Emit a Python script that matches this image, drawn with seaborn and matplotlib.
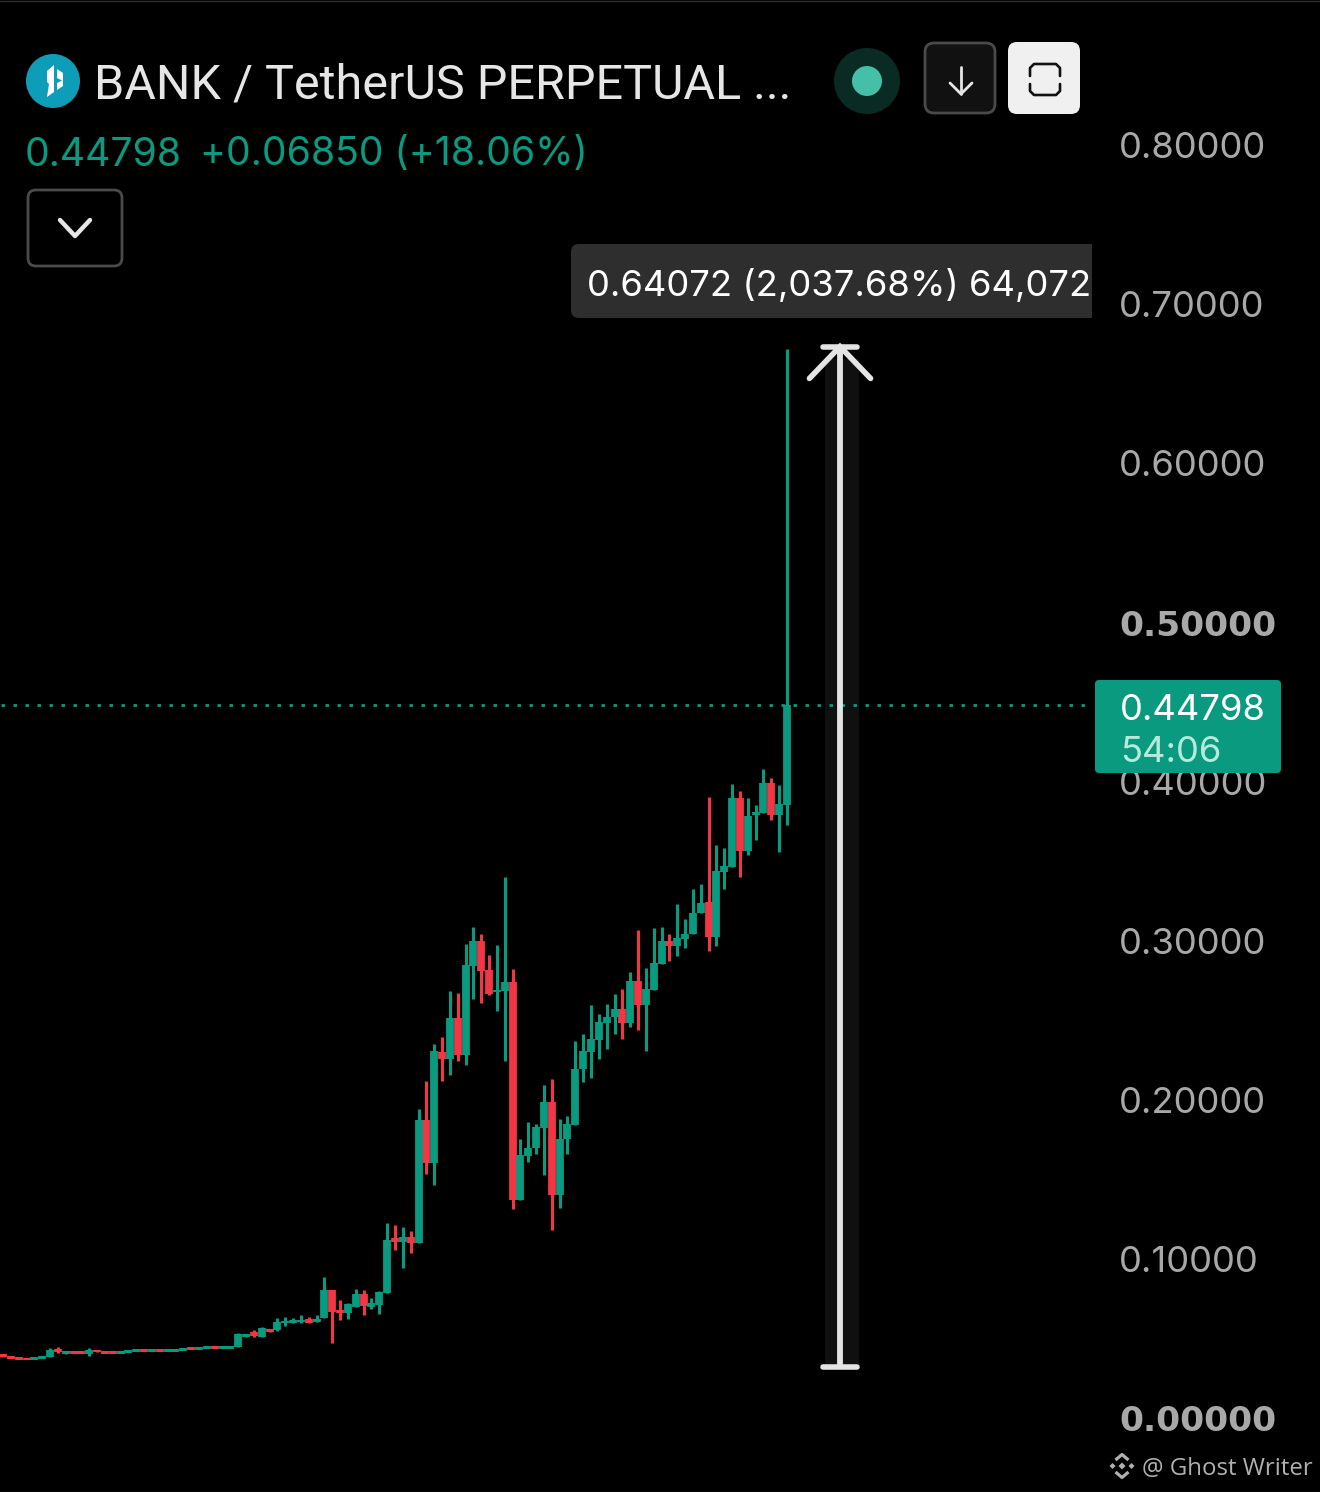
import numpy as np
import pandas as pd
import seaborn as sns
import matplotlib
matplotlib.use("Agg")
import matplotlib.pyplot as plt
from matplotlib.patches import FancyBboxPatch, Circle, Rectangle, Polygon
from matplotlib.ticker import FixedLocator

# ---------- data (prices) ----------
opens = [.0399,.0383,.0377,.0374,.0369,.0377,.0383,.0434,.0405,.0418,.0415,.0402,.0427,.0418,.0415,.0409,.0412,.0418,.0427,.0421,.0427,
         .0421,.0421,.0427,.0440,.0434,.0437,.0449,.0440,.0440,.0446,.0509,.0541,.0509,.0559,.0553,.0597,.0600,.0603,.0622,.0607,.0629,
         .0805,.0679,.0660,.0698,.0779,.0698,.0710,.0786,.1131,.1106,.1138,.1100,.1873,.1603,.2300,.2256,.2514,.2282,.2841,.2998,.2816,
         .2678,.2684,.2740,.1370,.1647,.1697,.1823,.1986,.1402,.1754,.1842,.2194,.2300,.2376,.2483,.2520,.2571,.2483,.2747,.2596,.2690,
         .2854,.2998,.2967,.3011,.3042,.3174,.3243,.3023,.3432,.3463,.3897,.3564,.3790,.3803,.3991,.3790,.3853]
closes = [.0383,.0374,.0368,.0368,.0378,.0387,.0427,.0415,.0415,.0409,.0409,.0427,.0415,.0409,.0409,.0415,.0421,.0427,.0418,.0427,.0418,
          .0427,.0431,.0437,.0431,.0440,.0446,.0437,.0446,.0446,.0528,.0528,.0515,.0566,.0541,.0603,.0610,.0613,.0616,.0600,.0622,.0805,
          .0666,.0660,.0717,.0779,.0704,.0723,.0792,.1119,.1106,.1138,.1100,.1873,.1603,.2307,.2256,.2514,.2282,.2847,.2998,.2810,.2665,
          .2690,.2740,.1370,.1653,.1697,.1829,.1986,.1402,.1754,.1848,.2194,.2307,.2382,.2489,.2520,.2571,.2483,.2747,.2596,.2696,.2860,
          .2998,.2967,.3017,.3042,.3174,.3237,.3023,.3438,.3470,.3897,.3564,.3784,.3809,.3991,.3790,.3859,.44798]
highs = [.0399,.0383,.0377,.0374,.0378,.0387,.0440,.0446,.0415,.0418,.0415,.0440,.0427,.0418,.0415,.0415,.0421,.0427,.0427,.0427,.0427,
         .0427,.0431,.0437,.0440,.0440,.0446,.0449,.0446,.0446,.0534,.0528,.0550,.0572,.0562,.0629,.0635,.0629,.0647,.0635,.0647,.0886,
         .0805,.0742,.0723,.0811,.0805,.0754,.0798,.1226,.1213,.1200,.1175,.1942,.2118,.2351,.2395,.2684,.2671,.2979,.3086,.3042,.2910,
         .2973,.3400,.2822,.1754,.1860,.1848,.2093,.2131,.1879,.1898,.2370,.2414,.2596,.2539,.2602,.2665,.2696,.2803,.3067,.2828,.3080,
         .3086,.3042,.3231,.3136,.3325,.3356,.3903,.3602,.3583,.3985,.3941,.3897,.3853,.4079,.4023,.3979,.6719]
lows = [.0383,.0374,.0368,.0368,.0369,.0377,.0383,.0409,.0405,.0409,.0409,.0390,.0415,.0409,.0409,.0409,.0412,.0418,.0418,.0421,.0418,
        .0421,.0421,.0427,.0431,.0434,.0437,.0437,.0440,.0440,.0446,.0509,.0509,.0506,.0538,.0547,.0578,.0597,.0600,.0597,.0603,.0629,
        .0471,.0616,.0622,.0698,.0647,.0685,.0654,.0786,.1056,.0943,.1037,.1100,.1534,.1464,.2118,.2156,.2244,.2219,.2634,.2608,.2659,
        .2558,.2244,.1314,.1370,.1609,.1659,.1527,.1182,.1320,.1659,.1842,.2112,.2137,.2256,.2319,.2414,.2382,.2458,.2439,.2307,.2690,
        .2854,.2872,.2904,.2954,.3042,.3174,.2935,.2967,.3325,.3463,.3400,.3539,.3633,.3803,.3759,.3558,.3727]
price_ticks = [0.0, 0.1, 0.2, 0.3, 0.4, 0.5, 0.6, 0.7, 0.8]
bold_ticks = [0.0, 0.5]
last_price = 0.44798
measure_low = 0.0321
measure_high = 0.6734
measure_index = 106.76

GREEN = "#0A9A80"
RED = "#F23645"
GREY_TICK = "#A8A8A8"
MIN_BODY = 0.0018  # thinnest body the chart draws, so flat candles stay visible

sns.set_theme(style="dark", rc={"figure.facecolor": "black", "axes.facecolor": "black"})
plt.rcParams["font.family"] = ["Inter", "DejaVu Sans"]

idx = np.arange(len(opens))
o, c_ = np.array(opens), np.array(closes)
direction = np.where(c_ >= o, "up", "down")
palette = {"up": GREEN, "down": RED}
mid = (o + c_) / 2
half = np.maximum(np.abs(c_ - o), MIN_BODY) / 2
wicks = pd.concat([pd.DataFrame({"i": idx, "price": highs, "dir": direction}),
                   pd.DataFrame({"i": idx, "price": lows, "dir": direction})])
bodies = pd.concat([pd.DataFrame({"i": idx, "price": mid - half, "dir": direction}),
                    pd.DataFrame({"i": idx, "price": mid + half, "dir": direction})])

fig = plt.figure(figsize=(13.2, 14.92), dpi=100, facecolor="black")
ax = fig.add_axes([0, 0, 1, 1])
ax.set_facecolor("black")

# measuring band behind everything
ax.fill_between([measure_index - 1.95, measure_index + 2.4], measure_low, measure_high - 0.008,
                color="#101010", lw=0, zorder=0)

sns.lineplot(data=wicks, x="i", y="price", units="i", estimator=None, hue="dir", palette=palette,
             linewidth=2.2, solid_capstyle="butt", legend=False, ax=ax, zorder=2)
sns.lineplot(data=bodies, x="i", y="price", units="i", estimator=None, hue="dir", palette=palette,
             linewidth=5.6, solid_capstyle="butt", legend=False, ax=ax, zorder=3)

ax.set_xlim(-3 / 7.84, (1320 - 3) / 7.84)
ax.set_ylim((1418 - 1492) / 1591, 1418 / 1591)
ax.set_xlabel("")
ax.set_ylabel("")
ax.grid(False)
for s in ax.spines.values():
    s.set_visible(False)
ax.set_xticks([])
ax.yaxis.set_major_locator(FixedLocator(price_ticks))
ax.yaxis.tick_right()
ax.set_yticklabels([f"{v:.5f}" for v in price_ticks])
ax.tick_params(axis="y", length=0, pad=-144.5, labelcolor=GREY_TICK, labelsize=26.2)
for lab, v in zip(ax.get_yticklabels(), price_ticks):
    lab.set_ha("left")
    if v in bold_ticks:
        lab.set_fontfamily(["DejaVu Sans"])
        lab.set_fontweight("bold")
        lab.set_fontsize(24.8)

# last-price dotted line
ax.plot([-0.2, (1088 - 3) / 7.84], [last_price, last_price], color=GREEN, lw=2.0,
        linestyle=(0, (1.25, 3.07)), zorder=1)

# measuring arrow
c = "#E4E4E4"
cap_half = 2.2
ax.plot([measure_index, measure_index], [measure_low, measure_high], color=c, lw=4.2, zorder=4,
        solid_capstyle="butt")
ax.plot([measure_index - cap_half, measure_index + cap_half], [measure_low, measure_low], color=c, lw=4.0,
        zorder=4, solid_capstyle="round")
ax.plot([measure_index - cap_half, measure_index + cap_half], [measure_high, measure_high], color=c, lw=4.0,
        zorder=4, solid_capstyle="round")
ax.plot([measure_index - 3.9, measure_index, measure_index + 3.9],
        [measure_high - 0.020, measure_high, measure_high - 0.020], color=c, lw=4.0, zorder=4,
        solid_capstyle="round", solid_joinstyle="miter")

# ---------- interface chrome, in a pixel-space overlay ----------
ui = fig.add_axes([0, 0, 1, 1], facecolor="none")
ui.set_xlim(0, 1320)
ui.set_ylim(1492, 0)
ui.axis("off")

def rbox(x0, y0, x1, y1, r, **kw):
    p = FancyBboxPatch((x0 + r, y0 + r), x1 - x0 - 2 * r, y1 - y0 - 2 * r,
                       boxstyle=f"round,pad={r},rounding_size={r}", **kw)
    ui.add_patch(p)
    return p

def line(xs, ys, color, lw, **kw):
    kw.setdefault("solid_capstyle", "round")
    ui.plot(xs, ys, color=color, lw=lw, **kw)

# edges of the screenshot
line([0, 1320], [0.5, 0.5], "#2c2c2c", 1)
line([0, 1320], [1491.5, 1491.5], "#2c2c2c", 1)

# logo
ui.add_patch(Circle((53, 81), 27, fc="#0E9DB9", ec="none"))
ui.add_patch(Polygon([[47, 71], [54, 65], [54, 92], [47, 97], [49, 84], [47, 82]], fc="white", ec="none"))
ui.add_patch(Polygon([[57, 69], [63, 73], [63, 81], [57, 78]], fc="white", ec="none"))
ui.add_patch(Polygon([[57, 83], [63, 80], [63, 86], [57, 90]], fc="white", ec="none"))

# title row
ui.text(94, 85, "BANK / TetherUS PERPETUAL ...", color="#E6E6E6", fontsize=34.9, va="center", ha="left",
        fontfamily=["Roboto", "DejaVu Sans"])
ui.text(25, 155, "0.44798", color=GREEN, fontsize=28.2, va="center", ha="left")
ui.text(200, 155, "+0.06850 (+18.06%)", color=GREEN, fontsize=28.2, va="center", ha="left")

# status dot
ui.add_patch(Circle((867, 81), 33, fc="#0A2A24", ec="none"))
ui.add_patch(Circle((867, 81), 15, fc="#45BFA8", ec="none"))

# down button
rbox(925, 43, 995, 113, 9, fc="#111111", ec="#4A4A4A", lw=2)
line([961, 961], [67, 94], "#E6E6E6", 2)
line([950, 961, 972], [83, 94, 83], "#E6E6E6", 2)

# expand button
rbox(1008, 42, 1080, 114, 9, fc="#F0F0F0", ec="none")
ui.plot([1030, 1030, 1034, 1056, 1060, 1060], [76, 68, 64, 64, 68, 76], color="#111111", lw=1.9)
ui.plot([1030, 1030, 1034, 1056, 1060, 1060], [84, 91, 95, 95, 91, 84], color="#111111", lw=1.9)

# chevron button
rbox(28, 190, 122, 266, 8, fc="black", ec="#4A4A4A", lw=2)
line([60, 75, 90], [220, 236, 220], "#E6E6E6", 3.2)

# measurement label
rbox(571, 244, 620, 318, 8, fc="#2E2E2E", ec="none")
ui.add_patch(Rectangle((585, 244), 507, 74, fc="#2E2E2E", ec="none"))
t = ui.text(587, 286, "0.64072 (2,037.68%) 64,072", color="white", fontsize=26.2, va="center", ha="left")
t.set_clip_path(Rectangle((571, 244), 521, 74, transform=ui.transData))
t.set_clip_on(True)

# last-price tag
rbox(1095, 680, 1281, 773, 4, fc=GREEN, ec="none", zorder=5)
ui.text(1120, 710, "0.44798", color="white", fontsize=26.2, va="center", ha="left", zorder=6)
ui.text(1120, 752, "54:06", color="#B4EBDD", fontsize=26.2, va="center", ha="left", zorder=6)

# watermark
wm = "#B0B0B0"
for cx, cy, r in [(1122, 1466, 3.5), (1112.5, 1466, 3), (1131.5, 1466, 3)]:
    ui.add_patch(Polygon([[cx, cy - r], [cx + r, cy], [cx, cy + r], [cx - r, cy]], fc=wm, ec="none"))
ui.plot([1115.5, 1122, 1128.5], [1460, 1454.5, 1460], color=wm, lw=2.3, solid_capstyle="butt")
ui.plot([1115.5, 1122, 1128.5], [1472, 1477.5, 1472], color=wm, lw=2.3, solid_capstyle="butt")
ui.text(1142, 1469, "@ Ghost Writer", color=wm, fontsize=17.3, va="center", ha="left",
        fontfamily=["Open Sans", "DejaVu Sans"])

fig.savefig("out.png", dpi=100, facecolor="black")
